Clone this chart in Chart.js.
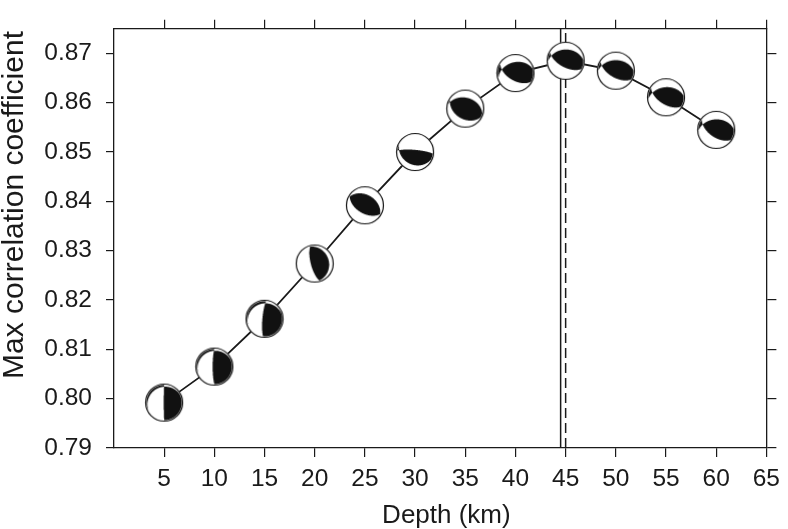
<!DOCTYPE html>
<html>
<head>
<meta charset="utf-8">
<script src="https://cdn.jsdelivr.net/npm/chart.js@4.4.0/dist/chart.umd.min.js"></script>
<style>
  html, body { margin: 0; padding: 0; background: #fff; }
  #wrap { width: 788px; height: 529px; }
</style>
</head>
<body>
<div id="wrap"><canvas id="chart"></canvas></div>
<script>
// depth scan: max correlation at each trial depth
const depths = [5, 10, 15, 20, 25, 30, 35, 40, 45, 50, 55, 60];
const maxCorr = [0.7992, 0.8065, 0.8162, 0.8274, 0.8392, 0.8500, 0.8588, 0.8660, 0.8685, 0.8665, 0.8611, 0.8545];

// nodal planes of each mechanism, [strike, dip]
const planeA = [[180, 88], [180, 82], [185, 80], [165, 72], [300, 40], [275, 80],
                [285, 38], [255, 38], [268, 36], [270, 40], [265, 42], [268, 40]];
const planeB = [[240, 12], [245, 12], [250, 14], [345, 20], [120, 52], [115, 28],
                [120, 40], [120, 55], [118, 60], [120, 58], [122, 57], [125, 56]];

const xTicks = [5, 10, 15, 20, 25, 30, 35, 40, 45, 50, 55, 60, 65];
const yTicks = [0.79, 0.80, 0.81, 0.82, 0.83, 0.84, 0.85, 0.86, 0.87];
const bestDepth = 44.5;   // solid line
const refDepth = 45;      // dashed line

const ink = '#1a1a1a';
const font = "'Liberation Sans', Arial, Helvetica, sans-serif";

// downward normal of a plane, N-E-D coords
const normal = (strike, dip) => {
  const f = strike * Math.PI / 180, d = dip * Math.PI / 180;
  return [Math.sin(d) * Math.sin(f), -Math.sin(d) * Math.cos(f), Math.cos(d)];
};

/* draw one lower-hemisphere beach ball (equal area) on its own canvas */
const beachBall = (a, b, size) => {
  const R = size / 2;
  const cv = document.createElement('canvas');
  cv.width = cv.height = size + 2;
  const c = cv.getContext('2d');
  const cx = cv.width / 2;
  c.fillStyle = '#fff';
  c.beginPath(); c.arc(cx, cx, R, 0, 2 * Math.PI); c.fill();

  const nA = normal(a[0], a[1]), nB = normal(b[0], b[1]);
  const inner = R - 1.4;
  const ov = document.createElement('canvas');
  ov.width = ov.height = cv.width;
  const oc = ov.getContext('2d');
  const img = oc.createImageData(ov.width, ov.height);
  const ss = 4;
  for (let py = 0; py < ov.height; py++) {
    for (let px = 0; px < ov.width; px++) {
      let k = 0;
      for (let sy = 0; sy < ss; sy++) {
        for (let sx = 0; sx < ss; sx++) {
          const x = (px + (sx + 0.5) / ss - cx) / inner;
          const y = (py + (sy + 0.5) / ss - cx) / inner;
          const r2 = x * x + y * y;
          if (r2 > 1) continue;
          const inc = 2 * Math.asin(Math.sqrt(r2) / Math.SQRT2);
          const az = Math.atan2(x, -y);
          const rN = Math.sin(inc) * Math.cos(az), rE = Math.sin(inc) * Math.sin(az), rD = Math.cos(inc);
          const pa = rN * nA[0] + rE * nA[1] + rD * nA[2];
          const pb = rN * nB[0] + rE * nB[1] + rD * nB[2];
          if (pa * pb > 0) k++;
        }
      }
      const i = (py * ov.width + px) * 4;
      img.data[i] = 17; img.data[i + 1] = 17; img.data[i + 2] = 17;
      img.data[i + 3] = Math.round(k / (ss * ss) * 255);
    }
  }
  oc.putImageData(img, 0, 0);
  c.drawImage(ov, 0, 0);
  c.strokeStyle = '#111';
  c.lineWidth = 1.2;
  c.beginPath(); c.arc(cx, cx, R - 0.5, 0, 2 * Math.PI); c.stroke();
  return cv;
};

const balls = depths.map((d, i) => beachBall(planeA[i], planeB[i], 38));

const setTicks = (vals) => (scale) => { scale.ticks = vals.map(v => ({ value: v })); };
const frameGrid = (len) => ({ drawOnChartArea: false, drawTicks: true, tickLength: len, color: ink, lineWidth: 1.2 });
const frameBorder = { display: true, color: ink, width: 1.3 };

new Chart(document.getElementById('chart'), {
  type: 'scatter',
  data: {
    datasets: [
      {
        data: depths.map((d, i) => ({ x: d, y: maxCorr[i] })),
        showLine: true,
        borderColor: ink,
        borderWidth: 1.8,
        pointStyle: balls,
        pointRadius: 19,
        order: 0
      },
      {
        data: [{ x: bestDepth, y: 0.79 }, { x: bestDepth, y: 0.875 }],
        showLine: true,
        borderColor: ink,
        borderWidth: 1.5,
        pointRadius: 0,
        order: 1
      },
      {
        data: [{ x: refDepth, y: 0.79 }, { x: refDepth, y: 0.875 }],
        showLine: true,
        borderColor: ink,
        borderWidth: 1.5,
        borderDash: [10, 5],
        pointRadius: 0,
        order: 2
      }
    ]
  },
  options: {
    responsive: true,
    maintainAspectRatio: false,
    animation: false,
    layout: { padding: 0 },
    plugins: { legend: { display: false }, tooltip: { enabled: false } },
    scales: {
      x: {
        type: 'linear', position: 'bottom', min: 0, max: 65,
        afterBuildTicks: setTicks(xTicks),
        afterFit: (s) => { s.height = 81; },
        grid: frameGrid(9),
        border: frameBorder,
        ticks: { color: ink, font: { family: font, size: 24.5 }, padding: 8, maxRotation: 0, autoSkip: false },
        title: { display: true, text: ' \u2009Depth (km)', color: ink, font: { family: font, size: 26, lineHeight: 1 }, padding: { top: 0, bottom: 0 } }
      },
      x2: {
        type: 'linear', position: 'top', min: 0, max: 65,
        afterBuildTicks: setTicks(xTicks),
        afterFit: (s) => { s.height = 9; },
        grid: frameGrid(9),
        border: frameBorder,
        ticks: { display: false }
      },
      y: {
        type: 'linear', position: 'left', min: 0.79, max: 0.875,
        afterBuildTicks: setTicks(yTicks),
        afterFit: (s) => { s.width = 114; },
        grid: frameGrid(8),
        border: frameBorder,
        ticks: { color: ink, font: { family: font, size: 24.5 }, padding: 14, callback: (v) => v.toFixed(2) },
        title: { display: true, text: '        Max correlation coefficient', color: ink, font: { family: font, size: 30, lineHeight: 1 }, padding: { top: 0, bottom: 0 } }
      },
      y2: {
        type: 'linear', position: 'right', min: 0.79, max: 0.875,
        afterBuildTicks: setTicks(yTicks),
        afterFit: (s) => { s.width = 16; },
        grid: frameGrid(10),
        border: frameBorder,
        ticks: { display: false }
      }
    }
  }
});
</script>
</body>
</html>
